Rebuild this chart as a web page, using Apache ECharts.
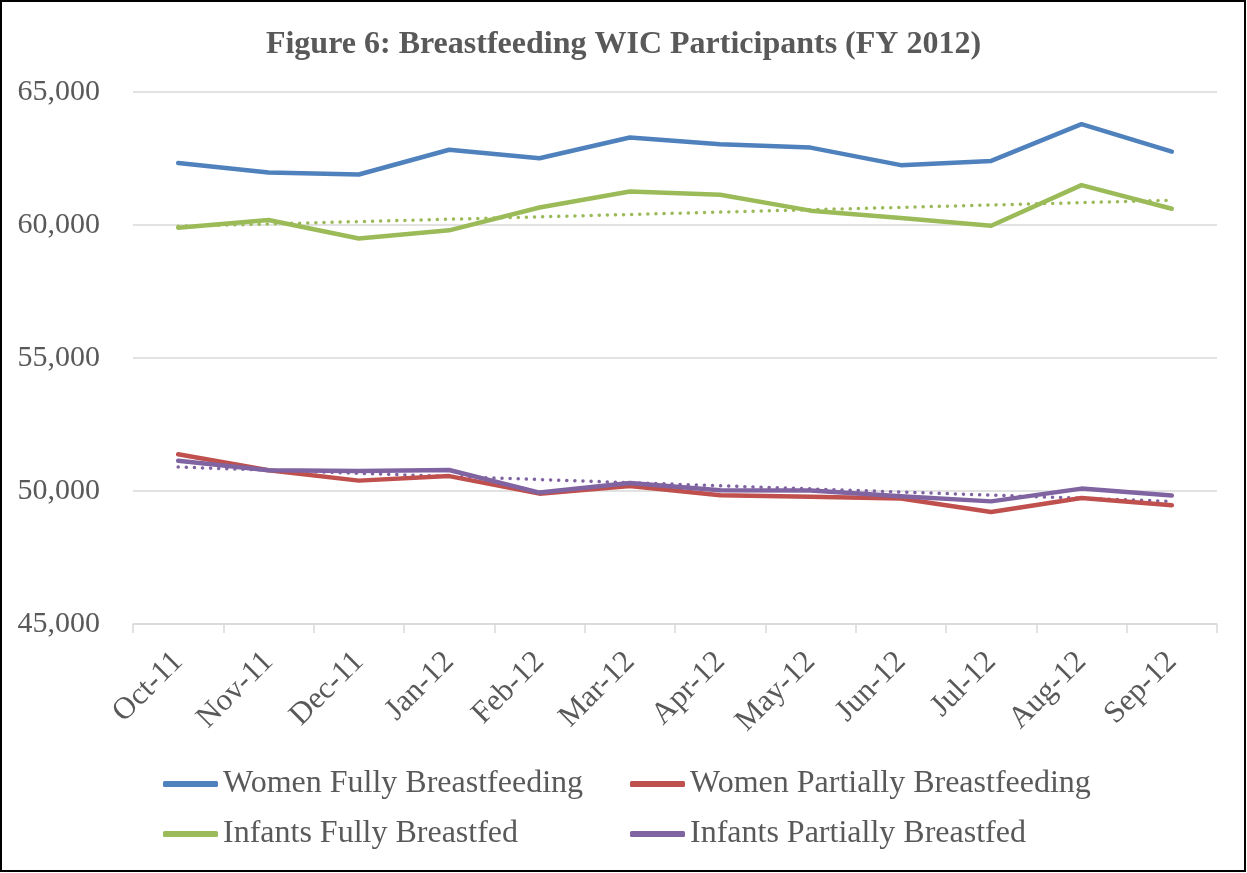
<!DOCTYPE html>
<html>
<head>
<meta charset="utf-8">
<script src="https://cdn.jsdelivr.net/npm/echarts@6/dist/echarts.min.js"></script>
<style>
html,body{margin:0;padding:0;background:#fff;}
#chart{width:1247px;height:873px;}
</style>
</head>
<body>
<div id="chart"></div>
<script>
const months = ['Oct-11','Nov-11','Dec-11','Jan-12','Feb-12','Mar-12','Apr-12','May-12','Jun-12','Jul-12','Aug-12','Sep-12'];
const womenFully = [62330, 61970, 61900, 62830, 62510, 63290, 63040, 62910, 62250, 62410, 63790, 62760];
const womenPartially = [51380, 50780, 50390, 50560, 49900, 50190, 49840, 49780, 49720, 49210, 49740, 49460];
const infantsFully = [59900, 60190, 59490, 59800, 60660, 61260, 61140, 60540, 60260, 59970, 61500, 60610];
const infantsPartially = [51140, 50780, 50750, 50790, 49940, 50300, 50030, 50020, 49800, 49610, 50090, 49830];
const infantsFullyTrend = [59950, null, null, null, null, null, null, null, null, null, null, 60930];
const infantsPartiallyTrend = [50900, null, null, null, null, null, null, null, null, null, null, 49610];
const seriesNames = ['Women Fully Breastfeeding','Women Partially Breastfeeding','Infants Fully Breastfed','Infants Partially Breastfed'];
const colors = ['#4f81bd','#c0504d','#9bbb59','#8064a2'];

const FONT = '"Liberation Serif", "Times New Roman", serif';
const TXT = '#595959';

const chart = echarts.init(document.getElementById('chart'), null, {renderer:'canvas'});

function mkLegend(name, left, top){
  return {
    data:[name], left:left, top:top, orient:'horizontal', padding:0,
    icon:'roundRect', itemWidth:55, itemHeight:6, itemGap:0,
    textStyle:{fontFamily:FONT, fontSize:32, color:TXT, lineHeight:36},
    selectedMode:false
  };
}

function line(name, data, color, z){
  return {
    name:name, type:'line', data:data, symbol:'none', z:z,
    lineStyle:{color:color, width:4.5, cap:'round', join:'round'},
    itemStyle:{color:color},
    emphasis:{disabled:true}, animation:false
  };
}
function trend(data, color){
  return {
    name:'trend', type:'line', data:data, symbol:'none', connectNulls:true, z:5,
    lineStyle:{color:color, width:3.5, type:[0.1,8], cap:'round'},
    emphasis:{disabled:true}, animation:false, legendHoverLink:false
  };
}

chart.setOption({
  animation:false,
  backgroundColor:'#fff',
  title:{
    text:'Figure 6: Breastfeeding WIC Participants (FY 2012)',
    left:'center', top:24,
    textStyle:{fontFamily:FONT, fontSize:32, fontWeight:'bold', color:TXT}
  },
  graphic:[{type:'rect', shape:{x:1, y:1, width:1244, height:870}, style:{fill:null, stroke:'#000', lineWidth:2}, silent:true}],
  legend:[
    mkLegend(seriesNames[0], 163, 766),
    mkLegend(seriesNames[1], 630, 766),
    mkLegend(seriesNames[2], 163, 816),
    mkLegend(seriesNames[3], 630, 816)
  ],
  grid:{left:133, right:30, top:92, bottom:249, containLabel:false},
  xAxis:{
    type:'category', data:months, boundaryGap:true,
    axisLine:{lineStyle:{color:'#d9d9d9', width:1.5}},
    axisTick:{show:true, length:9, lineStyle:{color:'#d9d9d9', width:1.5}},
    axisLabel:{rotate:45, margin:33, align:'right', verticalAlign:'middle', fontFamily:FONT, fontSize:31, color:TXT, interval:0}
  },
  yAxis:{
    type:'value', min:45000, max:65000, interval:5000,
    axisLine:{show:false}, axisTick:{show:false},
    splitLine:{lineStyle:{color:'#d9d9d9', width:1.5}},
    axisLabel:{margin:33, fontFamily:FONT, fontSize:30, color:TXT,
      formatter:function(v){return v.toLocaleString('en-US');}}
  },
  series:[
    line(seriesNames[0], womenFully, colors[0], 10),
    line(seriesNames[1], womenPartially, colors[1], 10),
    line(seriesNames[2], infantsFully, colors[2], 10),
    line(seriesNames[3], infantsPartially, colors[3], 11),
    trend(infantsFullyTrend, colors[2]),
    trend(infantsPartiallyTrend, colors[3])
  ]
});
</script>
</body>
</html>
